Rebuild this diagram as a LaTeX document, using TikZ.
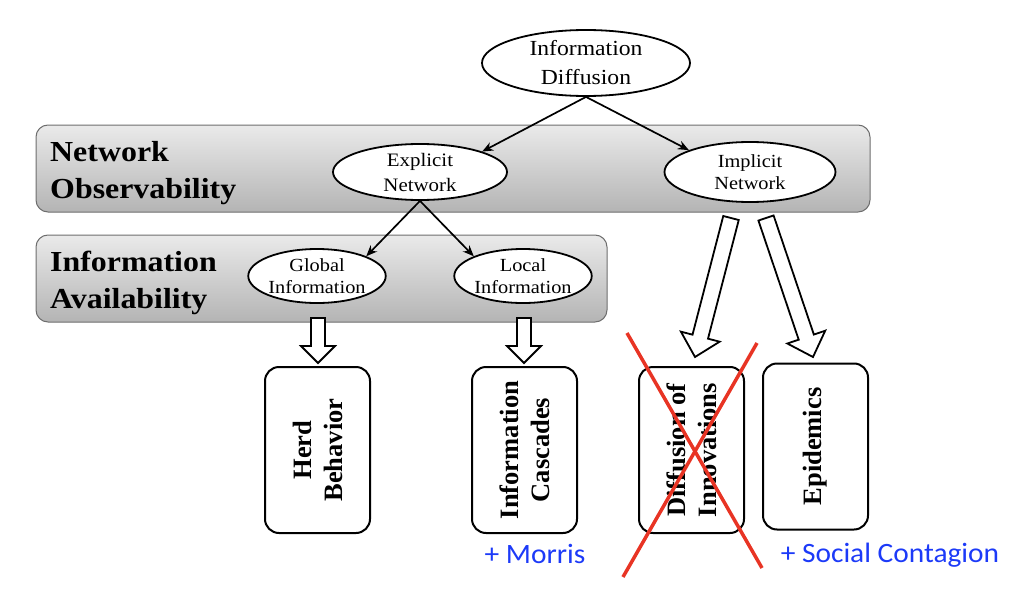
\documentclass[tikz,border=0pt]{standalone}
\usepackage{fontspec}
\setmainfont{Liberation Serif}
\newfontfamily\wideserif[FakeStretch=1.1]{Liberation Serif}
\newfontfamily\bluefont[FakeStretch=1.05]{Carlito}
\usetikzlibrary{calc,arrows.meta,shapes.geometric}
\definecolor{bandtop}{RGB}{234,234,234}
\definecolor{bandbot}{RGB}{180,180,180}
\definecolor{bandline}{RGB}{110,110,110}
\definecolor{crossred}{RGB}{232,52,36}
\definecolor{noteblue}{RGB}{28,58,248}
\newcommand\hollowarrow[5]{% start, end, shaft half width, head half width, head length
  \coordinate (#1-#2-h) at ($(#2)!#5!(#1)$);
  \draw[blockarrow] ($(#1)!#3!90:(#2)$) -- ($(#1-#2-h)!#3!90:(#2)$) -- ($(#1-#2-h)!#4!90:(#2)$)
    -- (#2) -- ($(#1-#2-h)!#4!-90:(#2)$) -- ($(#1-#2-h)!#3!-90:(#2)$) -- ($(#1)!#3!-90:(#2)$) -- cycle;}
\begin{document}
\begin{tikzpicture}[x=1pt,y=-1pt,
  band/.style={draw=bandline, line width=1pt, rounded corners=12pt, top color=bandtop, bottom color=bandbot},
  ell/.style={ellipse, draw, line width=1.8pt, fill=white, inner sep=0pt, align=center},
  bandlabel/.style={font=\wideserif\bfseries\fontsize{29}{37}\selectfont, align=left, anchor=west, inner sep=0pt},
  result/.style={draw, line width=2pt, rounded corners=14pt, rotate=90, minimum width=166pt, minimum height=105pt,
    align=center, inner sep=0pt, font=\bfseries\fontsize{26.5}{31}\selectfont},
  conn/.style={-{Stealth[length=11pt,width=9pt]}, line width=1.7pt},
  blockarrow/.style={draw, line width=1.8pt, fill=white, line join=miter},
  cross/.style={crossred, line width=3.5pt},
  note/.style={text=noteblue, font=\bluefont\fontsize{28}{32}\selectfont, inner sep=0pt}]
\useasboundingbox (0,0) rectangle (1036,602);
% bands
\draw[band] (36,125) rectangle (870,212);
\draw[band] (36,235) rectangle (607,322);
\node[bandlabel] (obs) at (50,173) {Network\\Observability};
\node[bandlabel] (avail) at (50,283) {Information\\Availability};
% ellipses
\node[ell, minimum width=208pt, minimum height=66pt, font=\wideserif\fontsize{21.5}{29}\selectfont] (id) at (586,63) {Information\\Diffusion};
\node[ell, minimum width=174pt, minimum height=56pt, font=\wideserif\fontsize{19}{25}\selectfont] (ex) at (420,172) {Explicit\\Network};
\node[ell, minimum width=171pt, minimum height=60pt, font=\wideserif\fontsize{18.5}{22}\selectfont] (im) at (750,172) {Implicit\\Network};
\node[ell, minimum width=136pt, minimum height=54pt, font=\wideserif\fontsize{18.5}{22}\selectfont] (gl) at (317,276) {Global\\Information};
\node[ell, minimum width=136pt, minimum height=54pt, font=\wideserif\fontsize{18.5}{22}\selectfont] (lo) at (523,276) {Local\\Information};
% connectors
\draw[conn] (id.south) -- (ex.north east);
\draw[conn] (id.south) -- (im.north west);
\draw[conn] (ex.south) -- (gl.north east);
\draw[conn] (ex.south) -- (lo.north west);
% result boxes
\node[result] (herd) at (317.5,450) {Herd\\Behavior};
\node[result] (casc) at (524.5,450) {Information\\Cascades};
\node[result] (diff) at (691.5,450) {Diffusion of\\Innovations};
\node[result] (epi) at (815.5,446.5) {Epidemics};
% block arrows
\coordinate (a1s) at (318,318); \coordinate (a1e) at (318,363);
\coordinate (a2s) at (524,318); \coordinate (a2e) at (524,363);
\coordinate (a3s) at (731,218); \coordinate (a3e) at (695,357);
\coordinate (a4s) at (766,218); \coordinate (a4e) at (813,357);
\hollowarrow{a1s}{a1e}{7pt}{17pt}{17pt}
\hollowarrow{a2s}{a2e}{7pt}{17pt}{17pt}
\hollowarrow{a3s}{a3e}{8pt}{20pt}{21pt}
\hollowarrow{a4s}{a4e}{8pt}{20pt}{21pt}
% red cross
\draw[cross] (627,333) -- (762,568);
\draw[cross] (757,343) -- (623,577);
% notes
\node[note] (morris) at (535,554) {+ Morris};
\node[note] (social) at (890,555) {+ Social Contagion};
\end{tikzpicture}
\end{document}
